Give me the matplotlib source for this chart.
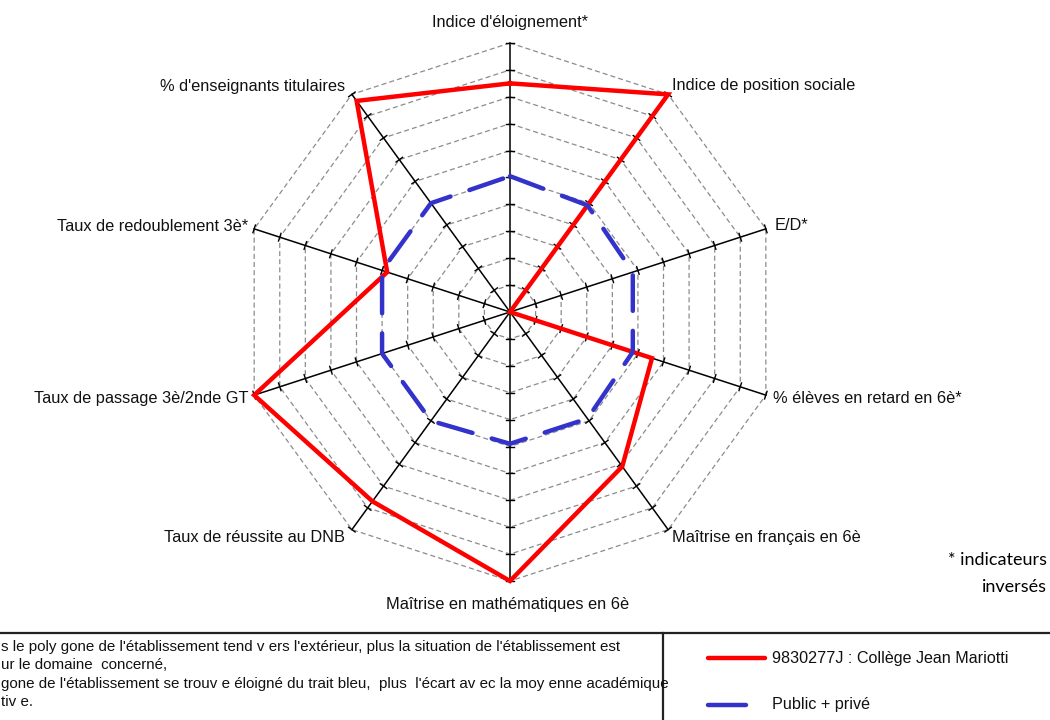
import numpy as np
import matplotlib
matplotlib.use("Agg")
import matplotlib.pyplot as plt

plt.rcParams['font.family'] = ['Liberation Sans', 'DejaVu Sans']

# axes, clockwise from the top
labels = ["Indice d'éloignement*", "Indice de position sociale", "E/D*",
          "% élèves en retard en 6è*", "Maîtrise en français en 6è",
          "Maîtrise en mathématiques en 6è", "Taux de réussite au DNB",
          "Taux de passage 3è/2nde GT", "Taux de redoublement 3è*",
          "% d'enseignants titulaires"]
college = [0.85, 1.0, 0.0, 0.555, 0.71, 1.0, 0.87, 1.0, 0.48, 0.97]
academie = [0.505, 0.49, 0.48, 0.48, 0.49, 0.49, 0.50, 0.50, 0.50, 0.50]
college_name = "9830277J : Collège Jean Mariotti"
academie_name = "Public + privé"

notes = ["s le poly gone de l'établissement tend v ers l'extérieur, plus la situation de l'établissement est",
         "ur le domaine  concerné,",
         "gone de l'établissement se trouv e éloigné du trait bleu,  plus  l'écart av ec la moy enne académique",
         "tiv e."]

n = len(labels)
theta = np.arange(n) * 2 * np.pi / n
n_rings = 10

def xy(r, t):
    return np.asarray(r) * np.sin(t), np.asarray(r) * np.cos(t)

W, H = 1050, 720
cx, cy, R = 510, 312, 269   # centre and radius in pixels

fig = plt.figure(figsize=(W / 100, H / 100), dpi=100)
ax = fig.add_axes([0, 0, 1, 1])
ax.set_xlim(-cx / R, (W - cx) / R)
ax.set_ylim(-(H - cy) / R, cy / R)
ax.axis('off')

# dashed decagon rings
tt = np.append(theta, theta[0])
for k in range(1, n_rings + 1):
    x, y = xy(k / n_rings, tt)
    ax.plot(x, y, color='#8c8c8c', lw=0.9, ls=(0, (4, 2.5)), zorder=1)

# spokes with little ticks on every ring
tick = 4 / R
for t in theta:
    x, y = xy([0, 1], t)
    ax.plot(x, y, color='black', lw=1.1, zorder=2)
    px, py = np.cos(t), -np.sin(t)
    for k in range(1, n_rings + 1):
        bx, by = xy(k / n_rings, t)
        ax.plot([bx - px * tick, bx + px * tick], [by - py * tick, by + py * tick],
                color='black', lw=1.0, zorder=2)

# series
x, y = xy(college + college[:1], tt)
ax.plot(x, y, color='#ff0000', lw=3.2, zorder=3, solid_joinstyle='miter')
x, y = xy(academie + academie[:1], tt)
ax.plot(x, y, color='#3333cc', lw=3.2, dashes=(8, 4.5), dash_capstyle='round', zorder=4)

# axis labels: (dx, dy) offset in pixels, alignment
label_pos = [((0, 20), 'center'), ((4, 9), 'left'), ((9, 3), 'left'),
             ((7, -3), 'left'), ((4, -8), 'left'), ((-2, -23), 'center'),
             ((-7, -8), 'right'), ((-6, -3), 'right'), ((-6, 2), 'right'),
             ((-7, 8), 'right')]
for lab, t, ((dx, dy), ha) in zip(labels, theta, label_pos):
    ex, ey = xy(1.0, t)
    ax.annotate(lab, (ex, ey), xytext=(dx * 0.72, dy * 0.72), textcoords='offset points',
                ha=ha, va='center', fontsize=11.8, color='#111111')

# bottom frame
yb = 1 - 633 / H
xv = 663 / W
ax.plot([0, 1], [yb, yb], color='#222222', lw=1.6, transform=ax.transAxes, clip_on=False)
ax.plot([xv, xv], [0, yb], color='#222222', lw=1.6, transform=ax.transAxes, clip_on=False)

for i, line in enumerate(notes):
    ax.text(1 / W, 1 - (647 + i * 18.3) / H, line, transform=ax.transAxes,
            ha='left', va='center', fontsize=10.9, color='#111111')

# legend
ax.plot([708 / W, 765 / W], [1 - 658 / H] * 2, color='#ff0000', lw=3.2,
        solid_capstyle='round', transform=ax.transAxes)
ax.text(772 / W, 1 - 658 / H, college_name, transform=ax.transAxes,
        ha='left', va='center', fontsize=11.6, color='#111111')
ax.plot([708 / W, 746 / W], [1 - 705 / H] * 2, color='#3333cc', lw=3.2,
        solid_capstyle='round', transform=ax.transAxes)
ax.text(772 / W, 1 - 705 / H, academie_name, transform=ax.transAxes,
        ha='left', va='center', fontsize=11.6, color='#111111')

ax.text(1047 / W, 1 - 560 / H, "* indicateurs", transform=ax.transAxes,
        ha='right', va='center', fontsize=13, family=['Lato', 'DejaVu Sans'])
ax.text(1047 / W, 1 - 587 / H, "inversés", transform=ax.transAxes,
        ha='right', va='center', fontsize=13, family=['Lato', 'DejaVu Sans'])

fig.savefig("out.png", dpi=100)
